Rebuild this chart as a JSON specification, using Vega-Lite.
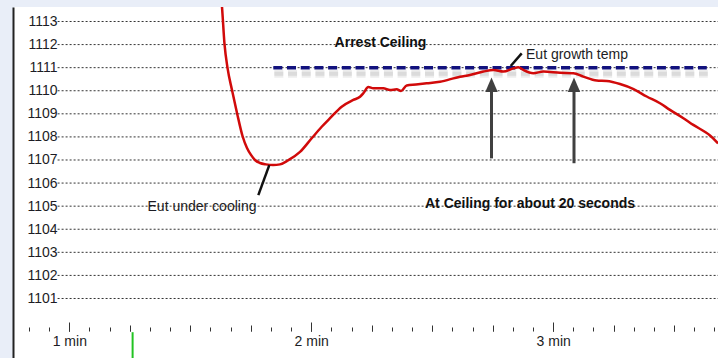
{
  "$schema": "https://vega.github.io/schema/vega-lite/v6.json",
  "width": 704,
  "height": 351,
  "autosize": {"type": "none"},
  "padding": {"left": 14, "top": 7, "right": 0, "bottom": 0},
  "background": "#e9eef8",
  "config": {"view": {"fill": "#ffffff", "stroke": null}, "font": "Liberation Sans"},
  "datasets": {
    "grid": [{"g": 1101}, {"g": 1102}, {"g": 1103}, {"g": 1104}, {"g": 1105}, {"g": 1106}, {"g": 1107}, {"g": 1108}, {"g": 1109}, {"g": 1110}, {"g": 1111}, {"g": 1112}, {"g": 1113}],
    "curve": [
      {"t": 97.62, "temp": 1114.15}, {"t": 97.87, "temp": 1113.63}, {"t": 98.49, "temp": 1112.03}, {"t": 99.24, "temp": 1110.99},
      {"t": 100.35, "temp": 1110.03}, {"t": 101.59, "temp": 1109.04}, {"t": 102.96, "temp": 1108.04}, {"t": 104.07, "temp": 1107.52},
      {"t": 105.06, "temp": 1107.22}, {"t": 106.06, "temp": 1107.0}, {"t": 107.3, "temp": 1106.87}, {"t": 108.78, "temp": 1106.81},
      {"t": 110.52, "temp": 1106.78}, {"t": 112.26, "temp": 1106.81}, {"t": 114.24, "temp": 1106.98}, {"t": 117.22, "temp": 1107.35},
      {"t": 120.12, "temp": 1107.94}, {"t": 122.6, "temp": 1108.44}, {"t": 124.66, "temp": 1108.81}, {"t": 127.56, "temp": 1109.31},
      {"t": 130.44, "temp": 1109.6}, {"t": 132.1, "temp": 1109.74}, {"t": 132.92, "temp": 1109.89}, {"t": 134.16, "temp": 1110.16},
      {"t": 135.4, "temp": 1110.11}, {"t": 137.88, "temp": 1110.11}, {"t": 139.54, "temp": 1110.03}, {"t": 141.2, "temp": 1110.06},
      {"t": 142.27, "temp": 1109.99}, {"t": 143.68, "temp": 1110.23}, {"t": 145.99, "temp": 1110.27}, {"t": 148.64, "temp": 1110.32},
      {"t": 151.94, "temp": 1110.39}, {"t": 156.9, "temp": 1110.61}, {"t": 159.38, "temp": 1110.68}, {"t": 162.68, "temp": 1110.83},
      {"t": 165.16, "temp": 1110.9}, {"t": 167.64, "temp": 1110.83}, {"t": 170.12, "temp": 1110.97}, {"t": 171.36, "temp": 1111.02},
      {"t": 172.6, "temp": 1110.9}, {"t": 175.08, "temp": 1110.76}, {"t": 177.56, "temp": 1110.83}, {"t": 181.7, "temp": 1110.78},
      {"t": 185.0, "temp": 1110.76}, {"t": 187.48, "temp": 1110.61}, {"t": 190.8, "temp": 1110.44}, {"t": 193.28, "temp": 1110.42},
      {"t": 196.58, "temp": 1110.29}, {"t": 199.81, "temp": 1110.08}, {"t": 203.2, "temp": 1109.75}, {"t": 206.5, "temp": 1109.46},
      {"t": 208.98, "temp": 1109.17}, {"t": 212.21, "temp": 1108.82}, {"t": 214.76, "temp": 1108.52}, {"t": 218.9, "temp": 1108.06},
      {"t": 220.89, "temp": 1107.72}
    ],
    "ceiling": [{"t": 110.6, "temp": 1111}, {"t": 218.1, "temp": 1111}],
    "leaders": [
      {"t": 172.2, "temp": 1111.62, "t2": 169.47, "temp2": 1111.07},
      {"t": 106.88, "temp": 1105.48, "t2": 109.6, "temp2": 1106.78}
    ],
    "arrows": [
      {"t": 164.71, "from": 1107.07, "to": 1110.26},
      {"t": 185.17, "from": 1106.86, "to": 1110.26}
    ],
    "cursor": [{"t": 75.7, "top": 1099.54, "bottom": 1098.3}],
    "boldText": [
      {"label": "Arrest Ceiling", "t": 137.18, "temp": 1111.91},
      {"label": "At Ceiling for about 20 seconds", "t": 174.26, "temp": 1104.9}
    ],
    "plainText": [
      {"label": "Eut growth temp", "t": 173.27, "temp": 1111.36},
      {"label": "Eut under cooling", "t": 79.4, "temp": 1104.79}
    ]
  },
  "resolve": {"axis": {"x": "independent", "y": "independent"}},
  "layer": [
    {
      "data": {"name": "grid"},
      "mark": {"type": "rule", "stroke": "#333333", "strokeWidth": 1, "strokeDash": [2, 2]},
      "encoding": {
        "y": {"field": "g", "type": "quantitative", "scale": {"domain": [1098.422, 1113.628], "nice": false, "zero": false},
          "axis": {"orient": "left", "offset": -44, "title": null, "format": "d", "values": [1101, 1102, 1103, 1104, 1105, 1106, 1107, 1108, 1109, 1110, 1111, 1112, 1113],
            "labels": true, "labelPadding": 1, "labelFontSize": 14, "labelFont": "Liberation Sans", "labelColor": "#1c1c24", "labelBaseline": "middle",
            "labelOverlap": false, "labelFlush": false, "ticks": false, "domain": false, "grid": false}},
        "x": {"datum": 57.1, "type": "quantitative", "scale": {"domain": [46.285, 220.885], "nice": false, "zero": false},
          "axis": {"orient": "bottom", "offset": -27, "title": null,
            "values": [50, 55, 60, 65, 70, 75, 80, 85, 90, 95, 100, 105, 110, 115, 120, 125, 130, 135, 140, 145, 150, 155, 160, 165, 170, 175, 180, 185, 190, 195, 200, 205, 210, 215, 220],
            "labels": false, "domain": false, "grid": false, "ticks": true, "tickSize": -4, "tickColor": "#333333", "tickWidth": 1}},
        "x2": {"datum": 220.885}
      }
    },
    {
      "data": {"name": "ceiling"},
      "mark": {"type": "line", "stroke": "#9a9a9a", "opacity": 0.18, "strokeWidth": 8, "strokeDash": [9, 4.7], "yOffset": 6, "xOffset": 1},
      "encoding": {
        "x": {"field": "t", "type": "quantitative", "scale": {"domain": [46.285, 220.885], "nice": false, "zero": false}, "axis": null},
        "y": {"field": "temp", "type": "quantitative", "scale": {"domain": [1098.422, 1113.628], "nice": false, "zero": false}, "axis": null}
      }
    },
    {
      "data": {"name": "ceiling"},
      "mark": {"type": "line", "stroke": "#9a9a9a", "opacity": 0.22, "strokeWidth": 4, "strokeDash": [9, 4.7], "yOffset": 6, "xOffset": 1},
      "encoding": {
        "x": {"field": "t", "type": "quantitative", "scale": {"domain": [46.285, 220.885], "nice": false, "zero": false}, "axis": null},
        "y": {"field": "temp", "type": "quantitative", "scale": {"domain": [1098.422, 1113.628], "nice": false, "zero": false}, "axis": null}
      }
    },
    {
      "data": {"name": "ceiling"},
      "mark": {"type": "line", "stroke": "#12127e", "strokeWidth": 3.5, "strokeDash": [9, 4.7]},
      "encoding": {
        "x": {"field": "t", "type": "quantitative", "scale": {"domain": [46.285, 220.885], "nice": false, "zero": false},
          "axis": {"orient": "bottom", "offset": -27, "title": null, "values": [60, 75, 90, 105, 120, 135, 150, 165, 180, 195, 210],
            "labels": false, "domain": false, "grid": false, "ticks": true, "tickSize": -6, "tickColor": "#333333", "tickWidth": 1}},
        "y": {"field": "temp", "type": "quantitative", "scale": {"domain": [1098.422, 1113.628], "nice": false, "zero": false}, "axis": null}
      }
    },
    {
      "data": {"name": "curve"},
      "mark": {"type": "line", "stroke": "#d10a0a", "strokeWidth": 2.5, "interpolate": "monotone", "clip": true},
      "encoding": {
        "x": {"field": "t", "type": "quantitative", "scale": {"domain": [46.285, 220.885], "nice": false, "zero": false},
          "axis": {"orient": "bottom", "offset": -27, "title": null, "values": [60, 120, 180], "labelExpr": "datum.value / 60 + ' min'",
            "ticks": false, "tickSize": 0, "domain": false, "grid": false, "labelPadding": 14.7, "labelBaseline": "alphabetic",
            "labelFontSize": 14, "labelFont": "Liberation Sans", "labelColor": "#1c1c24", "labelFlush": false, "labelOverlap": false}},
        "y": {"field": "temp", "type": "quantitative", "scale": {"domain": [1098.422, 1113.628], "nice": false, "zero": false}, "axis": null}
      }
    },
    {
      "data": {"name": "leaders"},
      "mark": {"type": "rule", "stroke": "#111111", "strokeWidth": 2.5},
      "encoding": {
        "x": {"field": "t", "type": "quantitative", "scale": {"domain": [46.285, 220.885], "nice": false, "zero": false}, "axis": null},
        "y": {"field": "temp", "type": "quantitative", "scale": {"domain": [1098.422, 1113.628], "nice": false, "zero": false}, "axis": null},
        "x2": {"field": "t2"},
        "y2": {"field": "temp2"}
      }
    },
    {
      "data": {"name": "arrows"},
      "mark": {"type": "rule", "stroke": "#404040", "strokeWidth": 3},
      "encoding": {
        "x": {"field": "t", "type": "quantitative", "scale": {"domain": [46.285, 220.885], "nice": false, "zero": false},
          "axis": {"orient": "bottom", "offset": -27, "title": null, "values": [60, 120, 180],
            "labels": false, "domain": false, "grid": false, "ticks": true, "tickSize": -9, "tickColor": "#333333", "tickWidth": 1}},
        "y": {"field": "from", "type": "quantitative", "scale": {"domain": [1098.422, 1113.628], "nice": false, "zero": false},
          "axis": {"orient": "left", "offset": 1, "title": null, "labels": false, "ticks": false, "grid": false, "domain": true, "domainColor": "#222222", "domainWidth": 2}},
        "y2": {"field": "to"}
      }
    },
    {
      "data": {"name": "arrows"},
      "mark": {"type": "point", "shape": "M0,-1L-0.86,1L0.86,1Z", "size": 210, "filled": true, "fill": "#404040", "opacity": 1, "strokeWidth": 0},
      "encoding": {
        "x": {"field": "t", "type": "quantitative", "scale": {"domain": [46.285, 220.885], "nice": false, "zero": false}, "axis": null},
        "y": {"field": "to", "type": "quantitative", "scale": {"domain": [1098.422, 1113.628], "nice": false, "zero": false}, "axis": null}
      }
    },
    {
      "data": {"name": "cursor"},
      "mark": {"type": "rule", "stroke": "#22c322", "strokeWidth": 2},
      "encoding": {
        "x": {"field": "t", "type": "quantitative", "scale": {"domain": [46.285, 220.885], "nice": false, "zero": false}, "axis": null},
        "y": {"field": "top", "type": "quantitative", "scale": {"domain": [1098.422, 1113.628], "nice": false, "zero": false}, "axis": null},
        "y2": {"field": "bottom"}
      }
    },
    {
      "data": {"name": "boldText"},
      "mark": {"type": "text", "font": "Liberation Sans", "fontSize": 14, "fontWeight": "bold", "align": "center", "baseline": "alphabetic", "fill": "#111111"},
      "encoding": {
        "x": {"field": "t", "type": "quantitative", "scale": {"domain": [46.285, 220.885], "nice": false, "zero": false}, "axis": null},
        "y": {"field": "temp", "type": "quantitative", "scale": {"domain": [1098.422, 1113.628], "nice": false, "zero": false}, "axis": null},
        "text": {"field": "label"}
      }
    },
    {
      "data": {"name": "plainText"},
      "mark": {"type": "text", "font": "Liberation Sans", "fontSize": 14, "align": "left", "baseline": "alphabetic", "fill": "#1c1c24"},
      "encoding": {
        "x": {"field": "t", "type": "quantitative", "scale": {"domain": [46.285, 220.885], "nice": false, "zero": false}, "axis": null},
        "y": {"field": "temp", "type": "quantitative", "scale": {"domain": [1098.422, 1113.628], "nice": false, "zero": false}, "axis": null},
        "text": {"field": "label"}
      }
    }
  ]
}
